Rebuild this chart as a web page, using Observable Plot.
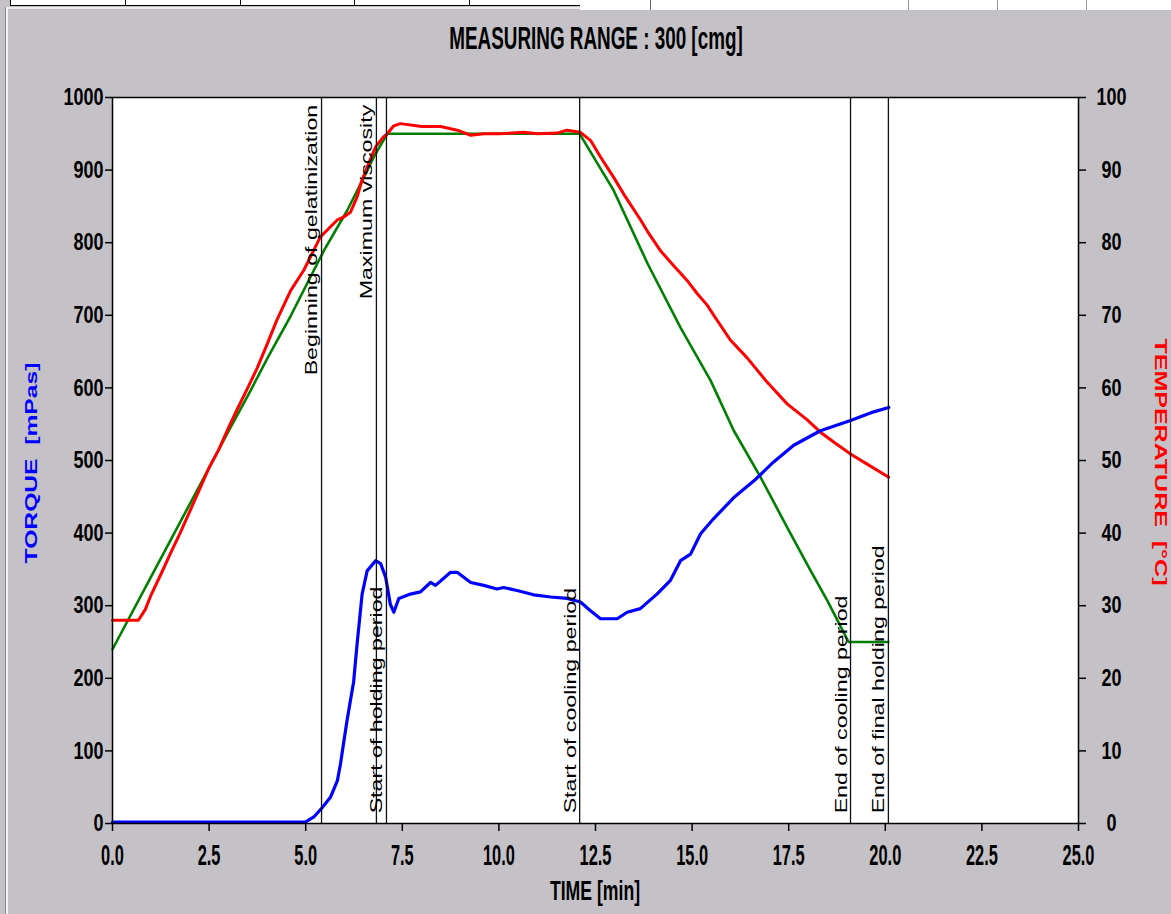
<!DOCTYPE html>
<html><head><meta charset="utf-8">
<script src="https://cdn.jsdelivr.net/npm/d3@7"></script>
<script src="https://cdn.jsdelivr.net/npm/@observablehq/plot@0.6"></script>
<style>
html,body{margin:0;padding:0;}
body{width:1171px;height:914px;overflow:hidden;position:relative;background:#c4c2c6;font-family:"Liberation Sans",Arial,sans-serif;}
#chart{position:absolute;left:0;top:0;}
.box{position:absolute;}
.ov{position:absolute;white-space:nowrap;font-weight:bold;line-height:1;}
#title{left:596px;top:24px;font-size:23px;color:#000;transform-origin:50% 0;transform:translate(-50%,0) scale(0.82,1.34);}
#xlabel{left:595px;top:878px;font-size:21.5px;color:#000;transform-origin:50% 0;transform:translate(-50%,0) scale(0.82,1.3);}
#ylabel{left:31px;top:463px;font-size:17px;color:#0000ff;transform:translate(-50%,-50%) rotate(-90deg) scale(1.45,1);}
#y2label{left:1160px;top:462px;font-size:17px;color:#ff0000;transform:translate(-50%,-50%) rotate(90deg) scale(1.47,1);}
</style></head><body>
<div class="box" style="left:6px;top:7px;width:1165px;height:2px;background:#eceae6"></div>
<div class="box" style="left:5px;top:7px;width:1px;height:907px;background:#8a8a8a"></div>
<div class="box" style="left:6px;top:7px;width:2px;height:907px;background:#f2f2f2"></div>
<div class="box" style="left:10px;top:0;width:572px;height:5px;background:#fff;border:1px solid #000;border-top:none">
  <div class="box" style="left:114px;top:0;width:1px;height:5px;background:#000"></div>
  <div class="box" style="left:229px;top:0;width:1px;height:5px;background:#000"></div>
  <div class="box" style="left:343px;top:0;width:1px;height:5px;background:#000"></div>
  <div class="box" style="left:458px;top:0;width:1px;height:5px;background:#000"></div>
</div>
<div class="box" style="left:580px;top:0;width:591px;height:10px;background:#fff">
  <div class="box" style="left:70px;top:0;width:1px;height:10px;background:#666"></div>
  <div class="box" style="left:328px;top:0;width:1px;height:10px;background:#999"></div>
  <div class="box" style="left:417px;top:0;width:1px;height:10px;background:#999"></div>
  <div class="box" style="left:506px;top:0;width:1px;height:10px;background:#999"></div>
</div>
<div id="chart"></div>
<div class="ov" id="title">MEASURING RANGE : 300 [cmg]</div>
<div class="ov" id="xlabel">TIME [min]</div>
<div class="ov" id="ylabel">TORQUE&nbsp;&nbsp;[mPas]</div>
<div class="ov" id="y2label">TEMPERATURE&nbsp;&nbsp;[°C]</div>
<script>
// ---- data ----
const xTicks = [0, 2.5, 5, 7.5, 10, 12.5, 15, 17.5, 20, 22.5, 25];
const torqueTicks = [0, 100, 200, 300, 400, 500, 600, 700, 800, 900, 1000];
const tempTicks = [0, 10, 20, 30, 40, 50, 60, 70, 80, 90, 100];
const tempToTorque = 10; // 100 °C shares the top of the 1000 mPas axis

// set temperature profile (green), °C
const greenTime = [0, 0.41, 1.0, 1.5, 2.0, 2.5, 3.0, 3.57, 4.0, 4.61, 5.47, 6.07, 6.59, 6.76, 7.11, 8.0, 9.0, 10.0, 11.0, 12.09, 12.97, 13.85, 14.70, 15.48, 16.08, 16.77, 17.46, 18.07, 18.50, 19.05, 20.08];
const greenTemp = [24.0, 28.1, 34.0, 39.0, 44.0, 49.0, 54.0, 59.6, 64.0, 69.9, 78.9, 84.4, 89.9, 91.8, 95.0, 95.0, 95.0, 95.0, 95.0, 95.0, 87.2, 77.1, 68.3, 61.0, 54.1, 47.7, 40.8, 34.8, 30.7, 25.0, 25.0];

// measured temperature (red), °C
const redTime = [0, 0.67, 0.85, 1.0, 1.25, 1.5, 1.75, 2.0, 2.25, 2.5, 2.75, 3.0, 3.25, 3.5, 3.75, 4.0, 4.25, 4.61, 4.95, 5.38, 5.81, 6.0, 6.16, 6.33, 6.45, 6.59, 6.81, 7.0, 7.11, 7.28, 7.45, 8.0, 8.49, 8.92, 9.27, 9.61, 10.0, 10.64, 11.0, 11.51, 11.76, 12.11, 12.37, 12.63, 12.97, 13.23, 13.66, 13.84, 14.18, 14.53, 14.87, 15.13, 15.39, 15.56, 15.99, 16.43, 16.94, 17.46, 17.98, 18.32, 18.7, 19.1, 19.53, 20.09];
const redTemp = [28.0, 28.0, 29.5, 31.5, 34.3, 37.2, 40.0, 43.0, 46.0, 49.0, 51.5, 54.5, 57.3, 60.0, 62.8, 66.0, 69.3, 73.4, 76.2, 80.8, 83.1, 83.6, 84.2, 86.3, 88.5, 90.4, 93.2, 94.5, 95.0, 96.1, 96.4, 96.0, 96.0, 95.5, 94.8, 95.0, 95.0, 95.2, 95.0, 95.1, 95.5, 95.2, 94.1, 91.8, 89.0, 86.7, 83.2, 81.6, 78.9, 76.8, 74.8, 73.0, 71.4, 70.0, 66.6, 64.1, 60.8, 57.8, 55.6, 53.9, 52.4, 50.9, 49.5, 47.7];

// torque / viscosity (blue), mPas
const blueTime = [0, 4.99, 5.21, 5.43, 5.64, 5.82, 5.90, 5.99, 6.07, 6.16, 6.24, 6.33, 6.46, 6.59, 6.81, 6.94, 7.07, 7.19, 7.28, 7.41, 7.71, 7.97, 8.23, 8.36, 8.75, 8.92, 9.27, 9.61, 9.95, 10.12, 10.47, 10.90, 11.34, 11.77, 12.11, 12.37, 12.63, 13.06, 13.32, 13.66, 14.09, 14.44, 14.70, 14.96, 15.22, 15.56, 16.08, 16.60, 17.11, 17.63, 18.32, 19.10, 19.70, 20.09];
const blueTorque = [2, 2, 9, 22, 36, 59, 82, 114, 142, 170, 195, 247, 316, 348, 362, 358, 339, 302, 291, 310, 316, 319, 332, 328, 346, 346, 332, 328, 323, 325, 321, 315, 312, 310, 305, 293, 282, 282, 291, 296, 316, 335, 362, 371, 399, 420, 449, 472, 498, 521, 541, 555, 567, 573];

// events
const eventTime = [5.41, 6.83, 7.09, 12.09, 19.10, 20.08];
const eventLabel = ["Beginning of gelatinization", "Maximum viscosity", "Start of holding period", "Start of cooling period", "End of cooling period", "End of final holding period"];

// ---- build ----
const green = greenTime.map((t, i) => ({time: t, v: greenTemp[i] * tempToTorque}));
const red = redTime.map((t, i) => ({time: t, v: redTemp[i] * tempToTorque}));
const blue = blueTime.map((t, i) => ({time: t, v: blueTorque[i]}));
const events = eventTime.map((t, i) => ({time: t, label: eventLabel[i]}));
const topLabels = new Set(["Beginning of gelatinization", "Maximum viscosity"]);
const topEvents = events.filter(d => topLabels.has(d.label));
const bottomEvents = events.filter(d => !topLabels.has(d.label));

const font = '"Liberation Sans", Arial, sans-serif';
const svg = Plot.plot({
  width: 1171,
  height: 914,
  marginLeft: 112,
  marginRight: 93,
  marginTop: 97,
  marginBottom: 91,
  style: {background: "transparent", fontFamily: font, overflow: "visible"},
  x: {domain: [0, 25]},
  y: {domain: [0, 1000]},
  marks: [
    Plot.frame({fill: "white", stroke: null}),
    Plot.line(green, {x: "time", y: "v", stroke: "#008000", strokeWidth: 2.6}),
    Plot.line(red, {x: "time", y: "v", stroke: "#ff0000", strokeWidth: 3}),
    Plot.line(blue, {x: "time", y: "v", stroke: "#0000ff", strokeWidth: 3.2}),
    Plot.ruleX(events, {x: "time", stroke: "#111", strokeWidth: 1.3}),
    Plot.text(topEvents, {x: "time", y: () => 990, text: "label", rotate: -90, textAnchor: "end", lineAnchor: "bottom", dx: -4.5, fontSize: 16, fill: "#000"}),
    Plot.text(bottomEvents, {x: "time", y: () => 14, text: "label", rotate: -90, textAnchor: "start", lineAnchor: "bottom", dx: -4, fontSize: 16, fill: "#000"}),
    Plot.axisX({ticks: xTicks, tickFormat: d3.format(".1f"), tickSize: 8, tickPadding: 12, fontSize: 20, fontWeight: "bold", label: null, stroke: "#000", strokeWidth: 1.5, fill: "#000"}),
    Plot.axisY({anchor: "left", ticks: torqueTicks, tickFormat: d => String(d), tickSize: 7, tickPadding: 2, fontSize: 18, fontWeight: "bold", label: null, strokeWidth: 1.5, fill: "#000"}),
    Plot.axisY({anchor: "right", ticks: tempTicks.map(t => t * tempToTorque), tickFormat: d => String(d / tempToTorque), tickSize: 7, tickPadding: 26, textAnchor: "middle", fontSize: 18, fontWeight: "bold", label: null, strokeWidth: 1.5, fill: "#000"}),
    Plot.frame({stroke: "#000", strokeWidth: 1.5})
  ]
});
document.getElementById("chart").appendChild(svg);

// the reference is rendered with vertically stretched lettering:
// append a scale to each text's own transform (local x/y offsets are scaled with it)
function stretch(nodes, sx, sy) {
  nodes.forEach(el => {
    const t = el.getAttribute("transform") || "";
    el.setAttribute("transform", `${t} scale(${sx},${sy})`);
  });
}
stretch(svg.querySelectorAll('g[aria-label="x-axis tick label"] text'), 0.82, 1.5);
stretch(svg.querySelectorAll('g[aria-label="y-axis tick label"] text'), 1, 1.35);
stretch([...svg.querySelectorAll("text")].filter(el => eventLabel.includes(el.textContent)), 1.45, 1);
</script>
</body></html>
